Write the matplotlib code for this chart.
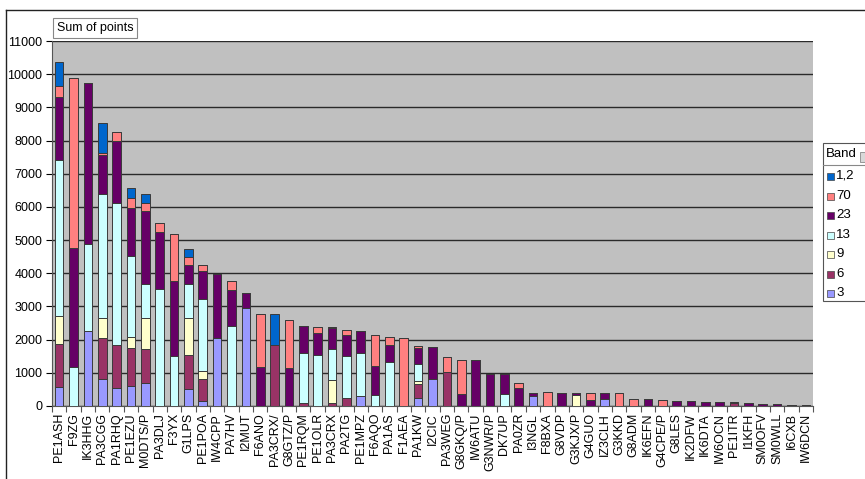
import numpy as np
import matplotlib.pyplot as plt
from matplotlib.patches import Rectangle
from matplotlib.lines import Line2D

plt.rcParams['font.family'] = ['Liberation Sans', 'DejaVu Sans']

calls = ['PE1ASH', 'F9ZG', 'IK3HHG', 'PA3CGG', 'PA1RHQ', 'PE1EZU', 'M0DTS/P', 'PA3DLJ', 'F3YX', 'G1LPS',
         'PE1POA', 'IW4CPP', 'PA7HV', 'I2MUT', 'F6ANO', 'PA3CRX/', 'G8GTZ/P', 'PE1RQM', 'PE1OLR', 'PA3CRX',
         'PA2TG', 'PE1MPZ', 'F6AQO', 'PA1AS', 'F1AEA', 'PA1KW', 'I2CIC', 'PA3WEG', 'G8GKQ/P', 'IW6ATU',
         'G3NWR/P', 'DK7UP', 'PA0ZR', 'I3NGL', 'F8BXA', 'G8VDP', 'G3KJX/P', 'G4GUO', 'IZ3CLH', 'G3KKD',
         'G8ADM', 'IK6EFN', 'G4CPE/P', 'G8LES', 'IK2DFW', 'IK6DTA', 'IW6OCN', 'PE1ITR', 'I1KFH', 'SM0OFV',
         'SM0WLL', 'I6CXB', 'IW6DCN']

# points per band, stacked bottom -> top: 3, 6, 9, 13, 23, 70, 1,2
band_3 = [560, 0, 2250, 820, 550, 610, 700, 0, 0, 500,
          160, 2050, 0, 2960, 0, 0, 0, 0, 0, 0,
          0, 310, 0, 0, 0, 250, 820, 0, 0, 0,
          0, 0, 0, 300, 0, 0, 0, 0, 210, 0,
          0, 0, 0, 0, 0, 0, 0, 0, 0, 0,
          0, 0, 0]
band_6 = [1320, 0, 0, 1240, 1300, 1140, 1030, 0, 0, 1050,
          640, 0, 0, 0, 0, 1850, 0, 80, 0, 80,
          230, 0, 0, 0, 0, 400, 0, 1030, 0, 0,
          0, 0, 0, 0, 0, 0, 0, 0, 0, 0,
          0, 0, 0, 0, 0, 0, 0, 80, 0, 0,
          0, 0, 0]
band_9 = [830, 0, 0, 580, 0, 330, 920, 0, 0, 1090,
          250, 0, 0, 0, 0, 0, 0, 0, 0, 690,
          0, 0, 0, 0, 0, 100, 0, 0, 0, 0,
          0, 0, 0, 0, 0, 0, 320, 0, 0, 0,
          0, 0, 0, 0, 0, 0, 0, 0, 0, 0,
          0, 0, 0]
band_13 = [4700, 1180, 2630, 3750, 4270, 2430, 1020, 3540, 1520, 1030,
           2160, 0, 2410, 0, 0, 0, 0, 1530, 1550, 950,
           1280, 1280, 330, 1320, 0, 530, 0, 0, 0, 0,
           0, 370, 0, 0, 0, 0, 0, 0, 0, 0,
           0, 0, 0, 0, 0, 0, 0, 0, 0, 0,
           0, 0, 0]
band_23 = [1900, 3570, 4850, 1170, 1860, 1470, 2200, 1710, 2250, 580,
           850, 1930, 1080, 440, 1180, 0, 1140, 800, 640, 620,
           630, 670, 880, 530, 0, 480, 950, 0, 350, 1400,
           950, 580, 550, 100, 0, 400, 80, 180, 170, 0,
           0, 200, 0, 160, 160, 130, 130, 0, 100, 50,
           50, 40, 30]
band_70 = [340, 5150, 0, 70, 290, 290, 250, 260, 1410, 240,
           190, 0, 290, 0, 1580, 0, 1450, 0, 200, 50,
           150, 0, 920, 240, 2060, 60, 0, 460, 1050, 0,
           0, 0, 150, 0, 410, 0, 0, 200, 0, 380,
           210, 0, 170, 0, 0, 0, 0, 40, 0, 0,
           0, 0, 0]
band_12 = [720, 0, 0, 890, 0, 310, 280, 0, 0, 250,
           0, 0, 0, 0, 0, 910, 0, 0, 0, 0,
           0, 0, 0, 0, 0, 0, 0, 0, 0, 0,
           0, 0, 0, 0, 0, 0, 0, 0, 0, 0,
           0, 0, 0, 0, 0, 0, 0, 0, 0, 0,
           0, 0, 0]

bands = ['3', '6', '9', '13', '23', '70', '1,2']
series = [band_3, band_6, band_9, band_13, band_23, band_70, band_12]
colors = ['#9999ff', '#993366', '#ffffcc', '#ccffff', '#660066', '#ff8080', '#0066cc']

W, H = 865, 479
fig = plt.figure(figsize=(W / 100, H / 100), dpi=100)
ax = fig.add_axes([52 / W, 1 - 406 / H, 761 / W, 365 / H])
ax.set_facecolor('#c0c0c0')

x = np.arange(len(calls))
bottom = np.zeros(len(calls))
for name, vals, c in zip(bands, series, colors):
    v = np.array(vals, dtype=float)
    ax.bar(x, v, 0.6, bottom=bottom, color=c, edgecolor='#3a3a3a', linewidth=0.7, zorder=3)
    bottom += v

ax.set_xlim(-0.5, len(calls) - 0.5)
ax.set_ylim(0, 11000)
ax.set_yticks(np.arange(0, 11001, 1000))
ax.yaxis.grid(True, color='#2a2a2a', linewidth=1.0, zorder=1)
ax.set_axisbelow(True)

ax.set_xticks(x)
ax.set_xticklabels(calls, rotation=90, fontsize=9)
ax.set_xticks(np.arange(len(calls) + 1) - 0.5, minor=True)
ax.tick_params(axis='x', which='major', length=0, pad=5)
ax.tick_params(axis='x', which='minor', length=4, width=0.8, color='#555555')
ax.tick_params(axis='y', length=4, width=0.8, labelsize=9, pad=3)

for s in ['top', 'right']:
    ax.spines[s].set_visible(False)
for s in ['left', 'bottom']:
    ax.spines[s].set_color('#555555')

# chart area border (left and top visible)
fig.add_artist(Line2D([6 / W, 6 / W], [0, 1 - 10 / H], color='#222222', lw=1.0))
fig.add_artist(Line2D([6 / W, 1], [1 - 10 / H, 1 - 10 / H], color='#222222', lw=1.0))

fig.text(57 / W, 1 - 28 / H, 'Sum of points', fontsize=9, va='center', ha='left',
         bbox=dict(boxstyle='square,pad=0.3', facecolor='white', edgecolor='#888888', linewidth=0.8))

# legend box, drawn like the Excel pivot field list (runs off the right edge)
def fx(px):
    return px / W

def fy(py):
    return 1 - py / H

fig.add_artist(Rectangle((fx(823), fy(301)), fx(60), 158 / H, facecolor='white',
                         edgecolor='#555555', lw=0.8))
fig.add_artist(Line2D([fx(823), 1], [fy(165), fy(165)], color='#888888', lw=0.8))
fig.text(fx(826), fy(154), 'Band', fontsize=9.5, va='center', ha='left')
fig.add_artist(Rectangle((fx(860), fy(162)), fx(8), 10 / H, facecolor='#d8d8d8',
                         edgecolor='#888888', lw=0.6))
rows = [176, 196, 215, 235, 254, 274, 293]
for yy, name, c in zip(rows, bands[::-1], colors[::-1]):
    fig.add_artist(Rectangle((fx(827), fy(yy + 3.5)), fx(7), 7 / H, facecolor=c,
                             edgecolor='#444444', lw=0.5))
    fig.text(fx(836), fy(yy), name, fontsize=9.5, va='center', ha='left')

fig.savefig('out.png', dpi=100)
